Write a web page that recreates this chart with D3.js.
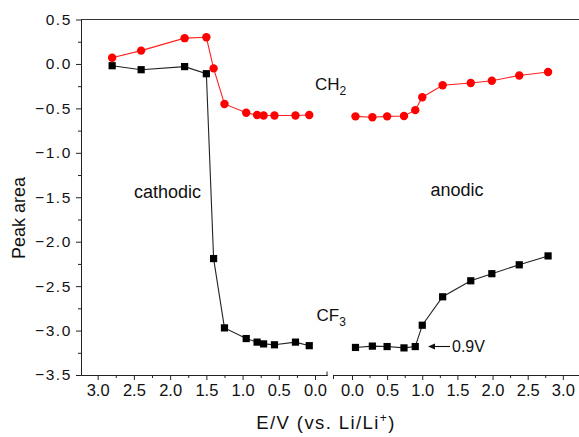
<!DOCTYPE html>
<html><head><meta charset="utf-8">
<script src="https://cdn.jsdelivr.net/npm/d3@7"></script>
<style>
html,body{margin:0;padding:0;background:#fff;}
svg{display:block;font-family:"Liberation Sans",Arial,Helvetica,sans-serif;}
</style></head>
<body>
<svg id="chart" width="579" height="437"></svg>
<script>
// ---- data ----
const cathodicE   = [2.8, 2.4, 1.8, 1.5, 1.4, 1.25, 0.95, 0.8, 0.71, 0.56, 0.27, 0.08];
const ch2Cathodic = [0.07, 0.15, 0.29, 0.30, -0.05, -0.45, -0.55, -0.575, -0.58, -0.58, -0.58, -0.575];
const cf3Cathodic = [-0.02, -0.065, -0.03, -0.11, -2.19, -2.97, -3.09, -3.13, -3.15, -3.16, -3.13, -3.17];
const anodicE     = [0.05, 0.29, 0.5, 0.74, 0.9, 1.0, 1.29, 1.69, 1.99, 2.38, 2.79];
const ch2Anodic   = [-0.59, -0.6, -0.59, -0.585, -0.52, -0.375, -0.24, -0.215, -0.19, -0.13, -0.09];
const cf3Anodic   = [-3.19, -3.175, -3.18, -3.195, -3.18, -2.94, -2.62, -2.44, -2.36, -2.26, -2.16];
const xTicks      = [0, 0.5, 1.0, 1.5, 2.0, 2.5, 3.0];
const xMinor      = [0.25, 0.75, 1.25, 1.75, 2.25, 2.75];
const yTicks      = [0.5, 0.0, -0.5, -1.0, -1.5, -2.0, -2.5, -3.0, -3.5];
const yMinor      = [0.25, -0.25, -0.75, -1.25, -1.75, -2.25, -2.75, -3.25];

const svg = d3.select("#chart");
const y  = d3.scaleLinear().domain([-3.5, 0.5]).range([375, 19.5]);
const xL = d3.scaleLinear().domain([3.23, -0.165]).range([81, 327]);
const xR = d3.scaleLinear().domain([-0.27, 3.23]).range([333, 579]);
const axisColor = "#222";
const fmtX = d => d3.format(".1f")(d);
const fmtY = d => d3.format(".1f")(d); // d3 uses the unicode minus sign

// y axis
const gy = svg.append("g").attr("transform","translate(81,0)");
gy.append("g").call(d3.axisLeft(y).tickValues(yMinor).tickSize(3).tickFormat("").tickSizeOuter(0));
const gyMaj = gy.append("g").call(d3.axisLeft(y).tickValues(yTicks).tickSize(5).tickPadding(4).tickFormat(fmtY).tickSizeOuter(0));
gy.selectAll("path.domain").attr("stroke", axisColor);
gy.selectAll("line").attr("stroke", axisColor);
gyMaj.selectAll("text").attr("font-size", 15.5).attr("letter-spacing", 1.6).attr("fill","#111")
  .attr("font-family",'"Liberation Sans",Arial,sans-serif');

// x axes (split)
function xAxis(scale){
  const g = svg.append("g").attr("transform","translate(0,375)");
  g.append("g").call(d3.axisBottom(scale).tickValues(xMinor).tickSize(3).tickFormat("").tickSizeOuter(0));
  const gm = g.append("g").call(d3.axisBottom(scale).tickValues(xTicks).tickSize(5).tickPadding(4).tickFormat(fmtX).tickSizeOuter(0));
  g.selectAll("path.domain").attr("stroke", axisColor);
  g.selectAll("line").attr("stroke", axisColor);
  gm.selectAll("text").attr("font-size", 16.5).attr("fill","#111")
   .attr("font-family",'"Liberation Sans",Arial,sans-serif');
  return g;
}
xAxis(xL); xAxis(xR);
// break marks
svg.append("line").attr("x1",327).attr("x2",327).attr("y1",375.5).attr("y2",371.5).attr("stroke",axisColor);
svg.append("line").attr("x1",333.5).attr("x2",333.5).attr("y1",375).attr("y2",379).attr("stroke",axisColor);
// top frame
svg.append("line").attr("x1",81).attr("x2",579).attr("y1",y(0.5)).attr("y2",y(0.5)).attr("stroke","#333").attr("stroke-width",1.2);

// series
function drawSeries(scale, xs, ys, color, lineColor, shape){
  const pts = xs.map((e,i)=>[scale(e), y(ys[i])]);
  svg.append("path").attr("d", d3.line()(pts)).attr("fill","none")
    .attr("stroke", lineColor).attr("stroke-width",1.1);
  if(shape==="circle"){
    svg.append("g").selectAll("circle").data(pts).join("circle")
      .attr("cx",d=>d[0]).attr("cy",d=>d[1]).attr("r",4.2).attr("fill",color);
  } else {
    svg.append("g").selectAll("rect").data(pts).join("rect")
      .attr("x",d=>d[0]-3.6).attr("y",d=>d[1]-3.6).attr("width",7.2).attr("height",7.2).attr("fill",color);
  }
}
drawSeries(xL, cathodicE, cf3Cathodic, "#000", "#222", "square");
drawSeries(xR, anodicE, cf3Anodic, "#000", "#222", "square");
drawSeries(xL, cathodicE, ch2Cathodic, "#ff0000", "#ff2020", "circle");
drawSeries(xR, anodicE, ch2Anodic, "#ff0000", "#ff2020", "circle");

// annotations
const txt = (x,yy,s,size)=>svg.append("text").attr("x",x).attr("y",yy).attr("font-size",size).attr("fill","#111").text(s);
const ch = txt(315, 90, "CH", 17); ch.append("tspan").attr("dy",5).attr("font-size",12).text("2");
const cf = txt(316.5, 321, "CF", 17); cf.append("tspan").attr("dy",5).attr("font-size",12).text("3");
txt(134, 198, "cathodic", 18);
txt(430.5, 196, "anodic", 18);
txt(452, 352, "0.9V", 16);
// arrow
svg.append("line").attr("x1",433).attr("x2",450).attr("y1",346.5).attr("y2",346.5).attr("stroke","#111").attr("stroke-width",1.1);
svg.append("path").attr("d","M428,346.5 L435,343.5 L435,349.5 Z").attr("fill","#111");

// axis titles
const xt = svg.append("text").attr("x",326).attr("y",429).attr("text-anchor","middle").attr("font-size",18.5)
  .attr("letter-spacing",1.4).attr("fill","#111").text("E/V  (vs. Li/Li");
xt.append("tspan").attr("dy",-7).attr("font-size",12).text("+");
xt.append("tspan").attr("dy",7).text(")");
svg.append("text").attr("transform","translate(25,218) rotate(-90)").attr("text-anchor","middle")
  .attr("font-size",18).attr("fill","#111").text("Peak area");
</script>
</body></html>
